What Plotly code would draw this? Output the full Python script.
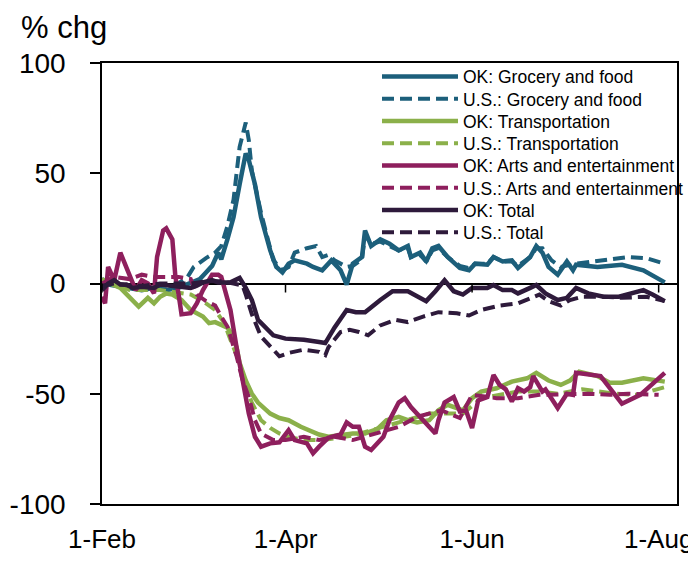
import plotly.graph_objects as go

# ---------------- data ----------------
ok_grocery_dates = ["2020-02-01","2020-02-05","2020-02-10","2020-02-14","2020-02-18","2020-02-22","2020-02-26",
    "2020-03-01","2020-03-04","2020-03-06","2020-03-08","2020-03-10","2020-03-11","2020-03-13","2020-03-15","2020-03-17","2020-03-19","2020-03-20","2020-03-22","2020-03-24","2020-03-27","2020-03-29","2020-03-31",
    "2020-04-02","2020-04-04","2020-04-08","2020-04-10","2020-04-13","2020-04-16","2020-04-19","2020-04-21","2020-04-23","2020-04-26","2020-04-27","2020-04-29",
    "2020-05-02","2020-05-05","2020-05-08","2020-05-11","2020-05-12","2020-05-15","2020-05-17","2020-05-19","2020-05-21","2020-05-24","2020-05-28","2020-05-31",
    "2020-06-02","2020-06-06","2020-06-08","2020-06-11","2020-06-14","2020-06-16","2020-06-20","2020-06-22","2020-06-24","2020-06-26","2020-06-29","2020-06-30",
    "2020-07-02","2020-07-04","2020-07-05","2020-07-12","2020-07-20","2020-07-27","2020-07-31","2020-08-03"]
ok_grocery = [0,-1,-2,-3,-2,-3,-2,
    0,2,5,8,14,11,20,30,45,59,56,45,30,15,7.5,5,
    9,10.5,9,7.5,6,10.5,6,-0.5,9,12,24,17,
    20,18,15,17,12,14,10,16,17,12,7,6,
    9,8.5,12,10,10.5,7,12,17,14,7.5,4,6,
    10,6,8.5,7.5,8.5,6,3,0.5]

us_grocery_dates = ["2020-02-01","2020-02-05","2020-02-10","2020-02-15","2020-02-20","2020-02-25","2020-02-29",
    "2020-03-02","2020-03-06","2020-03-09","2020-03-11","2020-03-13","2020-03-15","2020-03-16","2020-03-17","2020-03-19","2020-03-20","2020-03-21","2020-03-24","2020-03-28","2020-03-31",
    "2020-04-02","2020-04-04","2020-04-08","2020-04-11","2020-04-13","2020-04-15","2020-04-17","2020-04-21","2020-04-23","2020-04-26","2020-04-27","2020-04-29",
    "2020-05-02","2020-05-05","2020-05-08","2020-05-11","2020-05-12","2020-05-15","2020-05-17","2020-05-19","2020-05-21","2020-05-24","2020-05-28","2020-05-31",
    "2020-06-02","2020-06-06","2020-06-08","2020-06-11","2020-06-14","2020-06-16","2020-06-20","2020-06-22","2020-06-24","2020-06-27","2020-06-30",
    "2020-07-05","2020-07-10","2020-07-22","2020-07-28","2020-08-03"]
us_grocery = [2,0,-1,-2,-1,-1,3,
    7.5,11.5,14,17,26,38,52,62,73,65,51,32,10.5,6,
    7.5,14,16,17,12,13,10.5,7.5,8,11,22,18,
    19,17,15,16,12,13,10,15,16,12,8,7,
    9,9,12,10,10,8,12,16,16,10.5,7.5,
    9,10,12,11.5,9]

ok_transport_dates = ["2020-02-01","2020-02-03","2020-02-07","2020-02-10","2020-02-13","2020-02-16","2020-02-18","2020-02-20","2020-02-22","2020-02-24","2020-02-27",
    "2020-03-01","2020-03-03","2020-03-05","2020-03-07","2020-03-09","2020-03-13","2020-03-14","2020-03-16","2020-03-17","2020-03-19","2020-03-21","2020-03-23","2020-03-27","2020-03-30",
    "2020-04-02","2020-04-06","2020-04-09","2020-04-12","2020-04-15","2020-04-19","2020-04-23","2020-04-27",
    "2020-05-01","2020-05-04","2020-05-08","2020-05-11","2020-05-14","2020-05-18","2020-05-21","2020-05-24","2020-05-29",
    "2020-06-01","2020-06-04","2020-06-09","2020-06-14","2020-06-19","2020-06-22","2020-06-26","2020-06-30",
    "2020-07-03","2020-07-06","2020-07-12","2020-07-16","2020-07-20","2020-07-27","2020-08-03"]
ok_transport = [0,0.5,-2,-6,-10.5,-6.5,-9,-6,-4.5,-5,-7.5,
    -12,-13.5,-15,-18,-17.5,-20,-22,-29,-36,-44,-50,-54,-59,-61,
    -62,-65,-67,-68.5,-69.5,-68.5,-68,-68,
    -66,-62,-60.5,-62,-63,-62,-57.5,-55,-57.5,
    -52,-49,-47.5,-44.5,-43,-40.5,-44,-46,
    -44,-40,-42,-45,-45,-43,-44.5]

us_transport_dates = ["2020-02-01","2020-02-05","2020-02-10","2020-02-15","2020-02-20","2020-02-25",
    "2020-03-01","2020-03-05","2020-03-09","2020-03-11","2020-03-12","2020-03-14","2020-03-17","2020-03-19","2020-03-21","2020-03-24","2020-03-27","2020-03-30",
    "2020-04-03","2020-04-08","2020-04-13","2020-04-18","2020-04-23","2020-04-28",
    "2020-05-03","2020-05-08","2020-05-13","2020-05-18","2020-05-24","2020-05-29",
    "2020-06-04","2020-06-11","2020-06-16","2020-06-23","2020-06-29",
    "2020-07-07","2020-07-18","2020-07-25","2020-08-01","2020-08-03"]
us_transport = [2,0,-3,-3,-3,-4,
    -5,-8,-12,-16,-18,-25.5,-36,-47,-54,-62,-65.5,-68,
    -70,-71,-71,-70,-69,-67,
    -65,-63,-61,-59,-59,-59,
    -52,-50,-49,-49,-50,
    -48,-50,-50.5,-48,-47]

ok_arts_dates = ["2020-02-01","2020-02-02","2020-02-03","2020-02-05","2020-02-07","2020-02-09","2020-02-11","2020-02-12","2020-02-14","2020-02-16","2020-02-18","2020-02-19","2020-02-21","2020-02-22","2020-02-24","2020-02-25","2020-02-26","2020-02-27",
    "2020-03-01","2020-03-03","2020-03-05","2020-03-08","2020-03-10","2020-03-11","2020-03-12","2020-03-14","2020-03-16","2020-03-18","2020-03-20","2020-03-22","2020-03-24","2020-03-27","2020-03-30",
    "2020-04-02","2020-04-04","2020-04-08","2020-04-10","2020-04-12","2020-04-15","2020-04-19","2020-04-21","2020-04-23","2020-04-25","2020-04-27","2020-04-29",
    "2020-05-03","2020-05-05","2020-05-08","2020-05-10","2020-05-12","2020-05-15","2020-05-17","2020-05-19","2020-05-20","2020-05-21","2020-05-23","2020-05-26","2020-05-28","2020-05-30",
    "2020-06-01","2020-06-03","2020-06-06","2020-06-08","2020-06-10","2020-06-12","2020-06-14","2020-06-16","2020-06-18","2020-06-20","2020-06-21","2020-06-24","2020-06-25","2020-06-29",
    "2020-07-02","2020-07-04","2020-07-05","2020-07-13","2020-07-20","2020-07-26","2020-08-03"]
ok_arts = [-6,-9,7.5,1.5,14,7.5,0,-3,1.5,0,-4.5,12,24,25,20,3,-4.5,-14,
    -13.5,-9,-3,4,4,3,-2,-12,-29,-44,-59,-69.5,-74,-72.5,-72,
    -66.5,-71,-72.5,-77,-74,-70,-68.5,-63,-65,-65,-74,-75.5,
    -69.5,-62,-54,-52,-56,-60.5,-63,-66,-68,-62,-54,-51.5,-58,-57.5,
    -65.5,-53,-51.5,-41.5,-46,-48,-53.5,-47.5,-49,-47,-42,-49,-48,-56.5,
    -50,-50.5,-40.5,-42,-54.5,-50.5,-40.5]

us_arts_dates = ["2020-02-01","2020-02-05","2020-02-10","2020-02-14","2020-02-18","2020-02-22","2020-02-26",
    "2020-03-01","2020-03-03","2020-03-06","2020-03-09","2020-03-11","2020-03-13","2020-03-16","2020-03-18","2020-03-20","2020-03-22","2020-03-24","2020-03-28",
    "2020-04-01","2020-04-07","2020-04-12","2020-04-17","2020-04-23","2020-04-27",
    "2020-05-03","2020-05-08","2020-05-14","2020-05-18","2020-05-22","2020-05-28",
    "2020-06-01","2020-06-09","2020-06-16","2020-06-23",
    "2020-07-03","2020-07-09","2020-07-16","2020-07-22","2020-08-01"]
us_arts = [0,3,2,4,3,3,3,
    2,-5,-8,-10,-15,-19.5,-33,-44,-51.5,-62,-68,-71,
    -71,-69.5,-71,-69.5,-71,-69.5,
    -67,-65,-60.5,-59,-57.5,-61,
    -50.5,-52,-52,-50.5,
    -50,-50,-50.5,-50,-50.5]

ok_total_dates = ["2020-02-01","2020-02-03","2020-02-05","2020-02-07","2020-02-09","2020-02-11","2020-02-14","2020-02-18","2020-02-20","2020-02-23","2020-02-26",
    "2020-03-01","2020-03-03","2020-03-05","2020-03-08","2020-03-10","2020-03-14","2020-03-17","2020-03-19","2020-03-21","2020-03-23","2020-03-26","2020-03-28",
    "2020-04-01","2020-04-07","2020-04-12","2020-04-14","2020-04-17","2020-04-21","2020-04-24","2020-04-27",
    "2020-05-02","2020-05-06","2020-05-11","2020-05-14","2020-05-17","2020-05-20","2020-05-23","2020-05-26","2020-05-29",
    "2020-06-01","2020-06-06","2020-06-08","2020-06-11","2020-06-14","2020-06-16","2020-06-20","2020-06-22","2020-06-25","2020-06-29",
    "2020-07-02","2020-07-05","2020-07-09","2020-07-14","2020-07-19","2020-07-23","2020-07-27","2020-07-30","2020-08-03"]
ok_total = [-3,0,1.5,-0.5,-0.5,-2,-1.5,-2,-0.5,-1,-1.5,
    -2,-1,0.5,1.5,0.5,0.5,2.5,-2,-7.5,-16.5,-21,-23.5,
    -25,-25.5,-26.5,-27,-20,-12,-13,-13,
    -7.5,-3.5,-3.5,-6,-8,-3.5,1.5,-3.5,-5,
    -2,-2,-0.7,-3,-3,-4.5,-2,-0.7,-4.5,-7.5,
    -6.5,-2,-4.5,-6,-6,-4.5,-3,-5,-8]

us_total_dates = ["2020-02-01","2020-02-05","2020-02-10","2020-02-15","2020-02-20","2020-02-25",
    "2020-03-01","2020-03-06","2020-03-11","2020-03-15","2020-03-18","2020-03-19","2020-03-21","2020-03-24","2020-03-28","2020-03-30",
    "2020-04-02","2020-04-07","2020-04-12","2020-04-14","2020-04-15","2020-04-17","2020-04-19","2020-04-22","2020-04-25","2020-04-28",
    "2020-05-02","2020-05-07","2020-05-11","2020-05-16","2020-05-21","2020-05-27","2020-05-31",
    "2020-06-04","2020-06-10","2020-06-16","2020-06-20","2020-06-23","2020-06-26","2020-06-30",
    "2020-07-03","2020-07-07","2020-07-14","2020-07-20","2020-07-28","2020-08-03"]
us_total = [-1,0,-1,-1,0,0,
    0,1,1,0,-1,-5,-14,-24,-30,-33,
    -31.5,-30,-31,-32.5,-29,-25.5,-22,-21,-22,-23.5,
    -19,-16.5,-17.5,-15,-13,-13.5,-14.5,
    -12,-10,-9,-6.5,-5,-8,-10,
    -7.5,-6,-6,-6.5,-6,-8]

series_names = ["OK: Grocery and food", "U.S.: Grocery and food",
                "OK: Transportation", "U.S.: Transportation",
                "OK: Arts and entertainment", "U.S.: Arts and entertainment",
                "OK: Total", "U.S.: Total"]

x_tick_dates = ["2020-02-01", "2020-04-01", "2020-06-01", "2020-08-01"]
x_tick_labels = ["1-Feb", "1-Apr", "1-Jun", "1-Aug"]
y_ticks = [-100, -50, 0, 50, 100]
y_tick_labels = ["-100", "-50", "0", "50", "100"]

# ---------------- styling ----------------
FONT = "Liberation Sans, Arial, sans-serif"
TEAL = "#1C5F7B"
GREEN = "#8BB04A"
MAGENTA = "#8E1F5D"
PURPLE = "#2E1A3B"
DASH = "12px,6px"

series = [
    (ok_grocery_dates, ok_grocery, TEAL, "solid"),
    (us_grocery_dates, us_grocery, TEAL, DASH),
    (ok_transport_dates, ok_transport, GREEN, "solid"),
    (us_transport_dates, us_transport, GREEN, DASH),
    (ok_arts_dates, ok_arts, MAGENTA, "solid"),
    (us_arts_dates, us_arts, MAGENTA, DASH),
    (ok_total_dates, ok_total, PURPLE, "solid"),
    (us_total_dates, us_total, PURPLE, DASH),
]

# The page body adds an 8px offset; keep the page from overflowing the window.
W, H = 688, 545
ML, MR, MT = 94, 19, 55
plot_h = 441
MB = H - MT - plot_h
plot_w = W - ML - MR

fig = go.Figure()

# legend rows positioned individually (one legend per entry) to match row spacing
row_px = [76.5, 98.8, 121.0, 143.3, 165.5, 187.8, 210.0, 232.3]  # page pixels
legend_left_px = 377

layout_legends = {}
for i, ((xd, yv, col, dash), name) in enumerate(zip(series, series_names)):
    lg = "legend" if i == 0 else f"legend{i+1}"
    fig.add_trace(go.Scatter(
        x=xd, y=yv, mode="lines", name=name,
        line=dict(color=col, width=4.5 if dash == "solid" else 4, dash=dash),
        legend=lg,
    ))
    layout_legends[lg] = dict(
        x=(legend_left_px - 8 - ML) / plot_w, xanchor="left",
        y=(MT + plot_h - (row_px[i] - 8)) / plot_h, yanchor="middle",
        bgcolor="rgba(0,0,0,0)", borderwidth=0,
        font=dict(family=FONT, size=17.5, color="black"),
        itemwidth=76, tracegroupgap=0,
    )

# x tick marks sit on the zero line, pointing down
shapes = []
for d in x_tick_dates:
    shapes.append(dict(type="line", xref="x", yref="y", x0=d, x1=d,
                       ysizemode="pixel", yanchor=0, y0=0, y1=-9,
                       line=dict(color="black", width=1.5)))

fig.update_layout(
    width=W, height=H,
    margin=dict(l=ML, r=MR, t=MT, b=MB, autoexpand=False),
    paper_bgcolor="white", plot_bgcolor="white",
    font=dict(family=FONT, color="black"),
    showlegend=True,
    shapes=shapes,
    xaxis=dict(
        type="date", range=["2020-02-01", "2020-08-07"],
        tickvals=x_tick_dates, ticktext=x_tick_labels,
        tickfont=dict(family=FONT, size=26, color="black"),
        ticks="", showgrid=False, zeroline=False,
        showline=True, mirror=True, linecolor="black", linewidth=1.5,
        ticklabelstandoff=11, automargin=False, ticklabeloverflow="allow",
    ),
    yaxis=dict(
        range=[-100, 100], tickvals=y_ticks, ticktext=y_tick_labels,
        tickfont=dict(family=FONT, size=28, color="black"),
        ticks="outside", ticklen=10, tickwidth=1.5, tickcolor="black",
        showgrid=False, zeroline=True, zerolinecolor="black", zerolinewidth=1.5,
        showline=True, mirror=True, linecolor="black", linewidth=1.5,
        ticklabelstandoff=19, automargin=False,
    ),
    annotations=[dict(text="% chg", xref="paper", yref="paper",
                      x=(19 - 8 - ML) / plot_w, xanchor="left",
                      y=(MT + plot_h) / plot_h, yanchor="top",
                      showarrow=False, font=dict(family=FONT, size=31, color="black"))],
    **layout_legends,
)

fig.write_html("out.html")
